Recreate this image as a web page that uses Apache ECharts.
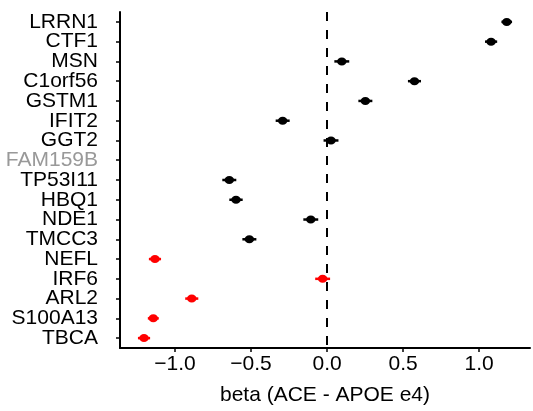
<!DOCTYPE html>
<html>
<head>
<meta charset="utf-8">
<script src="https://cdn.jsdelivr.net/npm/echarts@6/dist/echarts.min.js"></script>
<style>html,body{margin:0;padding:0;background:#fff}#c{width:533px;height:411px}</style>
</head>
<body>
<div id="c"></div>
<script>
// genes listed from top to bottom
var genes = ['LRRN1','CTF1','MSN','C1orf56','GSTM1','IFIT2','GGT2','FAM159B','TP53I11','HBQ1','NDE1','TMCC3','NEFL','IRF6','ARL2','S100A13','TBCA'];
var beta  = [1.182, 1.079, 0.097, 0.575, 0.252, -0.292, 0.026, null, -0.643, -0.599, -0.107, -0.511, -1.132, -0.029, -0.890, -1.143, -1.204];
var lower = [1.147, 1.039, 0.048, 0.532, 0.206, -0.338, -0.023, null, -0.689, -0.643, -0.156, -0.557, -1.172, -0.078, -0.933, -1.179, -1.244];
var upper = [1.217, 1.119, 0.146, 0.618, 0.298, -0.246, 0.075, null, -0.597, -0.555, -0.058, -0.465, -1.092, 0.020, -0.847, -1.107, -1.164];
var redGenes = ['NEFL','IRF6','ARL2','S100A13','TBCA'];
var xTicks = [-1.0, -0.5, 0.0, 0.5, 1.0];

var data = [];
for (var i = 0; i < genes.length; i++) {
  if (beta[i] === null) continue;
  data.push([beta[i], genes[i], lower[i], upper[i], redGenes.indexOf(genes[i]) >= 0 ? 1 : 0]);
}

var chart = echarts.init(document.getElementById('c'), null, {renderer: 'canvas'});
var font = 'Liberation Sans, Arial, Helvetica, sans-serif';
chart.setOption({
  animation: false,
  backgroundColor: '#fff',
  grid: {left: 120, top: 12, width: 410, height: 341, containLabel: false},
  xAxis: {
    type: 'value', min: -1.362, max: 1.335,
    axisLine: {show: true, onZero: false, lineStyle: {color: '#000', width: 2}},
    axisTick: {show: true, customValues: xTicks, length: 4, lineStyle: {color: '#000', width: 1.5}},
    axisLabel: {customValues: xTicks, margin: 6, fontSize: 21, fontFamily: font, color: '#000',
      formatter: function (v) { return (v < 0 ? '\u2212' : '') + Math.abs(v).toFixed(1); }},
    splitLine: {show: false},
    name: 'beta (ACE - APOE e4)', nameLocation: 'middle', nameGap: 37,
    nameTextStyle: {fontSize: 21, fontFamily: font, color: '#000'}
  },
  yAxis: {
    type: 'category', data: genes, inverse: true,
    axisLine: {show: true, onZero: false, lineStyle: {color: '#000', width: 2}},
    axisTick: {show: true, alignWithLabel: true, interval: 0, length: 4, lineStyle: {color: '#000', width: 1.5}},
    axisLabel: {interval: 0, margin: 22, fontSize: 21, fontFamily: font,
      formatter: function (v) { return v === 'FAM159B' ? '{g|' + v + '}' : v; },
      color: '#000',
      rich: {g: {color: '#999999', fontSize: 21, fontFamily: font}}},
    splitLine: {show: false}
  },
  series: [{
    type: 'custom',
    data: data,
    encode: {x: 0, y: 1},
    renderItem: function (params, api) {
      var c = api.coord([api.value(0), api.value(1)]);
      var l = api.coord([api.value(2), api.value(1)]);
      var h = api.coord([api.value(3), api.value(1)]);
      var col = api.value(4) ? '#ff0000' : '#000000';
      return {type: 'group', children: [
        {type: 'line', shape: {x1: l[0], y1: c[1], x2: h[0], y2: c[1]}, style: {stroke: col, lineWidth: 2.5}},
        {type: 'ellipse', shape: {cx: c[0], cy: c[1], rx: 4.8, ry: 4}, style: {fill: col}}
      ]};
    },
    markLine: {
      silent: true, symbol: 'none', label: {show: false},
      lineStyle: {color: '#000', type: [9, 9], width: 2},
      data: [{xAxis: 0}]
    },
    z: 3
  }]
});
</script>
</body>
</html>
